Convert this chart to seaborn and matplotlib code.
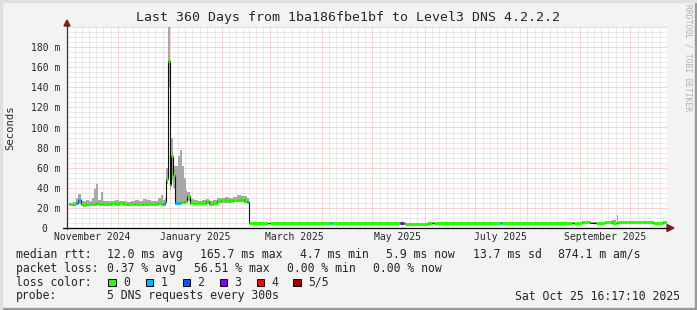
import matplotlib
matplotlib.use("Agg")
import matplotlib.pyplot as plt
import seaborn as sns
import numpy as np
import pandas as pd
from matplotlib.patches import Polygon, Rectangle

# ---------------- data (days since 1 Nov 2024) ----------------
day = [1.0, 3.4, 5.2, 6.4, 8.1, 9.3, 11.1, 12.9, 14.7, 15.8, 17.0, 18.2, 20.0, 21.2,
       23.6, 25.9, 28.3, 30.7, 33.1, 35.4, 37.8, 40.2, 42.6, 44.9, 47.3, 49.7, 52.0,
       53.8, 55.6, 56.8, 58.0, 58.6, 59.5, 60.7, 61.5, 63.0, 64.2, 65.7, 66.9, 68.1,
       69.3, 70.4, 71.3, 72.8, 75.2, 77.6, 79.9, 82.3, 84.1, 86.5, 88.8, 91.2, 93.6,
       95.9, 98.3, 100.7, 103.1, 104.9, 106.6, 108.0, 119.1, 120.3, 155.9, 157.0,
       197.4, 199.8, 200.4, 214.0, 216.4, 217.6, 256.8, 257.8, 299.5, 300.7, 305.5,
       310.2, 313.8, 319.0, 323.2, 325.6, 326.2, 326.8, 347.6, 353.5, 355.9]
median_ms = [23.5, 23.5, 25, 28, 24, 23, 23.5, 23.5, 24, 24, 24.5, 24, 24, 24,
             24, 24.5, 24, 24.5, 24, 23.5, 24, 24, 24, 24, 23.5, 23.5, 24,
             24.5, 24, 24, 26, 49, 165.7, 43, 72, 53, 25, 25, 25.5, 26,
             26.5, 27, 32, 25, 25, 24.5, 24.5, 26.5, 24, 24.5, 26.5, 27.5, 27.5,
             27, 28, 28, 28.5, 27, 26, 4.5, 4.5, 4.5, 4.5, 4.5,
             4.6, 4.6, 4.0, 5.2, 5.2, 5.3, 5.3, 5.3, 5.3, 5.3, 6.0,
             5.3, 5.0, 5.8, 5.0, 5.0, 5.2, 5.6, 5.0, 5.9, 5.9]
smoke_lo = [22.5, 22, 23, 24, 22.5, 22, 22, 22.5, 22.5, 22.5, 23, 22.5, 23, 22.5,
            22.5, 23, 23, 23, 22.5, 22.5, 23, 22.5, 22.5, 23, 22.5, 22.5, 22.5,
            23, 22.5, 22, 24, 44, 140, 38, 48, 40, 23, 23, 23, 23.5,
            24, 24, 27, 23, 23, 23, 23, 24, 23, 23, 24.5, 25, 25,
            25, 25.5, 25.5, 26, 25, 24.5, 4.2, 4.2, 4.2, 4.2, 4.2,
            4.3, 4.3, 3.8, 4.9, 4.9, 5.0, 5.0, 5.0, 5.0, 5.0, 5.6,
            5.0, 4.7, 5.4, 4.7, 4.7, 4.9, 5.3, 4.7, 5.5, 5.5]
smoke_hi = [25, 26, 30, 34, 27, 27, 28, 27, 30, 39, 44, 28, 36, 27,
            26.5, 27, 27.5, 27, 27, 26, 27, 28, 27, 29, 28, 27, 27,
            30, 33, 28, 30, 60, 230, 50, 90, 62, 62, 72, 78, 62,
            50, 38, 36, 29, 28, 27, 27.5, 29, 27, 28, 30, 30, 31,
            30, 31, 33, 32, 32, 30, 5.0, 5.0, 5.0, 5.0, 5.0,
            5.1, 5.1, 4.6, 5.8, 5.8, 6.0, 6.0, 6.0, 6.0, 6.0, 6.6,
            6.0, 5.6, 6.4, 8.0, 5.6, 13.0, 6.3, 5.7, 6.5, 6.5]
# loss class per interval (0..5 lost pings, -1 = no data)
loss = [0, 0, 1, 1, 0, 0, 0, 0, 0, 0, 0, 0, 0, 0,
        0, 0, 0, 0, 0, 0, 0, 0, 0, 0, 0, 0, 0,
        0, 0, 1, 0, 0, 0, 0, 0, 0, 1, 1, 0, 0,
        0, 0, 0, 0, 0, 0, 0, 0, 0, 0, 0, 0, 0,
        0, 0, 0, 0, 0, 1, 0, -1, 0, 1, 0,
        3, 0, 0, 0, -1, 0, 1, 0, -1, 0, 0,
        -1, 0, 0, 0, 0, 0, 0, 0, 0, 0]

loss_labels = ["0", "1", "2", "3", "4", "5/5"]
loss_colors = ["#26ff00", "#00b8ff", "#0059ff", "#7e00ff", "#ff0000", "#a00000"]

month_starts = [0, 30, 61, 92, 120, 151, 181, 212, 242, 273, 304, 334]
xlabel_pos = [15, 76, 135, 196, 257, 319]
xlabel_txt = ["November 2024", "January 2025", "March 2025", "May 2025",
              "July 2025", "September 2025"]
ytick_vals = [0, 20, 40, 60, 80, 100, 120, 140, 160, 180]
ytick_txt = ["0  ", "20 m", "40 m", "60 m", "80 m", "100 m", "120 m", "140 m",
             "160 m", "180 m"]

title = "Last 360 Days from 1ba186fbe1bf to Level3 DNS 4.2.2.2"
stats_rtt = ["median rtt:", "12.0 ms avg", "165.7 ms max", "4.7 ms min",
             "5.9 ms now", "13.7 ms sd", "874.1 m am/s"]
stats_loss = ["packet loss:", "0.37 % avg", "56.51 % max", "0.00 % min",
              "0.00 % now"]
probe_txt = "5 DNS requests every 300s"
stamp = "Sat Oct 25 16:17:10 2025"

# ---------------- figure ----------------
W, H = 697, 310
sns.set_style("white")
plt.rcParams["font.family"] = ["DejaVu Sans Mono"]
fig = plt.figure(figsize=(W / 100, H / 100), dpi=100, facecolor="#f3f3f3")

def fx(px):
    return px / W

def fy(py):
    return 1 - py / H

L, R, T, B = 67, 667, 27, 228
ax = fig.add_axes([fx(L), fy(B), (R - L) / W, (B - T) / H])
ax.set_facecolor("white")
XL0, XL1 = -0.18, 355.9
ax.set_xlim(XL0, XL1)
ax.set_ylim(0, 200)
for s in ax.spines.values():
    s.set_visible(False)

# grid
dot = (0, (1, 1))
minor_c, major_c = "#d6d6d6", "#f3b0b0"
for v in np.arange(0, 201, 5):
    if v % 20:
        ax.axhline(v, color=minor_c, lw=0.72, ls=dot, zorder=0)
for i in range(len(month_starts)):
    a = month_starts[i]
    b = month_starts[i + 1] if i + 1 < len(month_starts) else 365
    for k in range(1, 7):
        xv = a + (b - a) * k / 7
        if xv < XL1:
            ax.axvline(xv, color=minor_c, lw=0.72, ls=dot, zorder=0)
for v in range(20, 201, 20):
    ax.axhline(v, color=major_c, lw=0.72, ls=dot, zorder=0.5)
for m in month_starts:
    ax.axvline(m, color=major_c, lw=0.72, ls=dot, zorder=0.5)

# smoke
ax.fill_between(day, smoke_lo, smoke_hi, step="post", color="#a8a8a8", lw=0, zorder=1)

# median line (black steps)
df = pd.DataFrame({"day": day, "median": median_ms})
sns.lineplot(data=df, x="day", y="median", drawstyle="steps-post", color="#111111",
             lw=0.8, estimator=None, sort=False, ax=ax, zorder=2)

# coloured median by loss
for i in range(len(day) - 1):
    if loss[i] >= 0:
        ax.hlines(median_ms[i], day[i], day[i + 1], colors=loss_colors[loss[i]],
                  lw=2.2, zorder=3)

ax.set_xlabel("")
ax.set_ylabel("")
ax.set_xticks(xlabel_pos, xlabel_txt, fontsize=7)
ax.set_yticks(ytick_vals, ytick_txt, fontsize=7)
ax.tick_params(axis="x", length=0, pad=3.0)
ax.tick_params(axis="y", length=0, pad=5.0)

# axis lines and arrows
fig.add_artist(plt.Line2D([fx(67), fx(67)], [fy(229), fy(25)], color="#303030", lw=0.9))
fig.add_artist(plt.Line2D([fx(63), fx(668)], [fy(228), fy(228)], color="black", lw=0.9))
fig.patches.append(Polygon([[fx(67), fy(20)], [fx(64), fy(26)], [fx(70), fy(26)]],
                           closed=True, color="#7f1f1f", transform=fig.transFigure))
fig.patches.append(Polygon([[fx(674), fy(228)], [fx(667), fy(224.5)], [fx(667), fy(231.5)]],
                           closed=True, color="#7f1f1f", transform=fig.transFigure))

# texts
fig.text(fx(348), fy(18), title, ha="center", va="center", fontsize=9.5)
fig.text(fx(10), fy(128), "Seconds", rotation=90, ha="center", va="center", fontsize=7.6)
fig.text(fx(688), fy(4), "RRDTOOL / TOBI OETIKER", rotation=270, ha="center", va="top",
         fontsize=5.8, color="#b0b0b0")

FS = 8.3
row_y = [254.3, 268.3, 282.3, 296]
rtt_x = [16, 107, 200, 300, 386, 472.7, 558.3]
for s, x in zip(stats_rtt, rtt_x):
    fig.text(fx(x), fy(row_y[0]), s, ha="left", va="center", fontsize=FS)
loss_x = [16, 107, 194, 286.7, 372.7]
for s, x in zip(stats_loss, loss_x):
    fig.text(fx(x), fy(row_y[1]), s, ha="left", va="center", fontsize=FS)
fig.text(fx(16), fy(row_y[2]), "loss color:", ha="left", va="center", fontsize=FS)
sq_x = [108, 145.5, 182.5, 219.5, 256.5, 293]
for lab, col, x in zip(loss_labels, loss_colors, sq_x):
    fig.patches.append(Rectangle((fx(x), fy(row_y[2] + 4)), 7.5 / W, 7.5 / H,
                                 facecolor=col, edgecolor="black", lw=0.7,
                                 transform=fig.transFigure))
    fig.text(fx(x + 15), fy(row_y[2]), lab, ha="left", va="center", fontsize=FS)
fig.text(fx(16), fy(row_y[3]), "probe:", ha="left", va="center", fontsize=FS)
fig.text(fx(107), fy(row_y[3]), probe_txt, ha="left", va="center", fontsize=FS)
fig.text(fx(680), fy(row_y[3]), stamp, ha="right", va="center", fontsize=FS)

# 3D frame
fig.patches.append(Rectangle((0, 0), 1, 2 / H, color="#999999", transform=fig.transFigure))
fig.patches.append(Rectangle((1 - 2 / W, 0), 2 / W, 1, color="#999999", transform=fig.transFigure))
fig.patches.append(Rectangle((0, 1 - 2 / H), 1, 2 / H, color="#e0e0e0", transform=fig.transFigure))
fig.patches.append(Rectangle((0, 0), 2 / W, 1, color="#e0e0e0", transform=fig.transFigure))

fig.savefig("out.png", dpi=100, facecolor=fig.get_facecolor())
